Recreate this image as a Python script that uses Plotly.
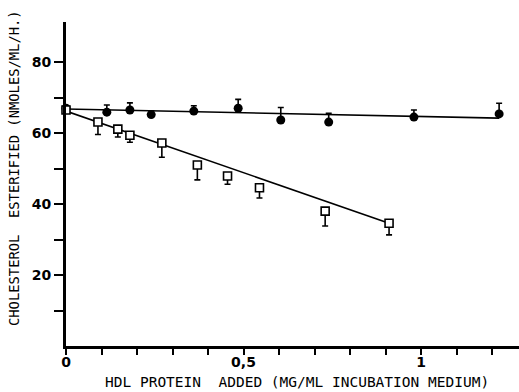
import plotly.graph_objects as go

# Filled symbols (control)
filled_x = [0.0, 0.115, 0.18, 0.24, 0.36, 0.485, 0.605, 0.74, 0.98, 1.22]
filled_y = [67.0, 65.9, 66.5, 65.2, 66.2, 67.0, 63.7, 63.1, 64.5, 65.4]
filled_err = [0, 2.0, 2.0, 1.0, 1.5, 2.5, 3.5, 2.5, 2.0, 3.0]

# Open squares (HDL)
open_x = [0.0, 0.09, 0.146, 0.18, 0.27, 0.37, 0.455, 0.545, 0.73, 0.91]
open_y = [66.5, 63.1, 61.1, 59.4, 57.2, 51.0, 47.9, 44.6, 38.0, 34.6]
open_err = [0, 3.5, 2.2, 2.0, 4.0, 4.2, 2.3, 2.9, 4.2, 3.3]

# Fitted lines (endpoints)
fit_filled_x = [0.0, 1.22]
fit_filled_y = [66.8, 64.2]
fit_open_x = [0.0, 0.91]
fit_open_y = [66.2, 34.6]

x_tickvals = [0, 0.1, 0.2, 0.3, 0.4, 0.5, 0.6, 0.7, 0.8, 0.9, 1.0, 1.1, 1.2]
x_ticktext = ["0", "", "", "", "", "0,5", "", "", "", "", "1", "", ""]
y_tickvals = [10, 20, 30, 40, 50, 60, 70, 80]
y_ticktext = ["", "20", "", "40", "", "60", "", "80"]

fig = go.Figure()
fig.add_trace(go.Scatter(x=fit_filled_x, y=fit_filled_y, mode="lines",
                         line=dict(color="black", width=1.6), hoverinfo="skip"))
fig.add_trace(go.Scatter(x=fit_open_x, y=fit_open_y, mode="lines",
                         line=dict(color="black", width=1.6), hoverinfo="skip"))
fig.add_trace(go.Scatter(
    x=filled_x, y=filled_y, mode="markers",
    marker=dict(symbol="circle", size=9, color="black"),
    error_y=dict(type="data", symmetric=False, array=filled_err,
                 arrayminus=[0] * len(filled_err), color="black", thickness=1.6, width=3),
    cliponaxis=False))
fig.add_trace(go.Scatter(
    x=open_x, y=open_y, mode="markers",
    marker=dict(symbol="square", size=8, color="white", line=dict(color="black", width=1.6)),
    error_y=dict(type="data", symmetric=False, array=[0] * len(open_err),
                 arrayminus=open_err, color="black", thickness=1.6, width=3),
    cliponaxis=False))

tickfont = dict(family="DejaVu Sans", size=14, color="black", weight="bold")
fig.update_layout(
    width=519, height=392,
    margin=dict(l=66, r=0, t=22, b=46),
    paper_bgcolor="white", plot_bgcolor="white",
    showlegend=False,
    xaxis=dict(range=[0, 1.276], tickvals=x_tickvals, ticktext=x_ticktext,
               showgrid=False, zeroline=False, showline=True, linecolor="black", linewidth=3,
               ticks="outside", ticklen=6, tickwidth=2, tickcolor="black", tickfont=tickfont,
               ticklabelstandoff=-5),
    yaxis=dict(range=[0, 91.3], tickvals=y_tickvals, ticktext=y_ticktext,
               showgrid=False, zeroline=False, showline=True, linecolor="black", linewidth=3,
               ticks="outside", ticklen=9, tickwidth=2, tickcolor="black", tickfont=tickfont),
    annotations=[
        dict(text="HDL PROTEIN  ADDED (MG/ML INCUBATION MEDIUM)", xref="paper", yref="paper",
             x=(297 - 66) / 453, y=-(382 - 346) / 324, xanchor="center", yanchor="middle",
             showarrow=False, font=dict(family="DejaVu Sans Mono", size=14.5, color="black")),
        dict(text="CHOLESTEROL  ESTERIFIED (NMOLES/ML/H.)", xref="paper", yref="paper",
             x=-(66 - 14) / 453, y=(346 - 168) / 324, xanchor="center", yanchor="middle",
             textangle=-90, showarrow=False,
             font=dict(family="DejaVu Sans Mono", size=13.8, color="black")),
    ],
)

fig.write_html("out.html", config={"displayModeBar": False},
               post_script="document.body.style.margin='0';")
